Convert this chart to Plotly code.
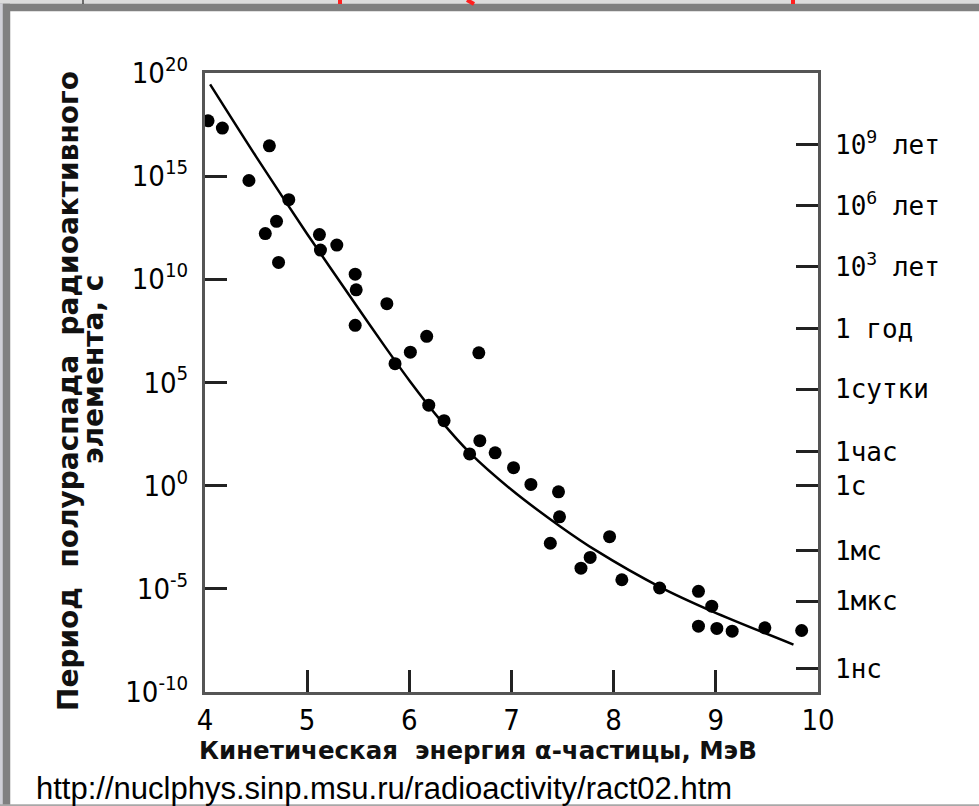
import plotly.graph_objects as go

# ---- data ----
# experimental points: alpha kinetic energy (MeV) and log10 of half-life (s)
energy_mev = [4.03, 4.17, 4.63, 4.43, 4.82, 4.70, 4.59, 4.72, 5.12, 5.13, 5.29,
              5.47, 5.48, 5.78, 5.47, 6.17, 6.01, 6.68, 5.86, 6.19, 6.34, 6.69,
              6.59, 6.84, 7.02, 7.19, 7.46, 7.47, 7.38, 7.96, 7.77, 7.68, 8.08,
              8.45, 8.83, 8.96, 8.83, 9.01, 9.16, 9.48, 9.84]
halflife_log10_s = [17.68, 17.33, 16.47, 14.79, 13.86, 12.81, 12.22, 10.82, 12.17,
                    11.42, 11.66, 10.25, 9.49, 8.82, 7.77, 7.24, 6.47, 6.44, 5.91,
                    3.90, 3.15, 2.18, 1.54, 1.59, 0.87, 0.06, -0.30, -1.51, -2.79,
                    -2.47, -3.48, -4.00, -4.56, -4.96, -5.12, -5.84, -6.81, -6.92,
                    -7.05, -6.89, -7.02]

# points
curve_energy_mev = [4.05, 4.5, 5.0, 5.5, 5.76, 6.0, 6.3, 6.59, 7.0, 7.47, 7.83,
                    8.45, 8.97, 9.76]
curve_log10_s = [19.45, 15.95, 12.2, 8.6, 6.75, 5.1, 3.2, 1.6, -0.2, -1.95, -3.15,
                 -4.9, -6.1, -7.7]

# left axis ticks
left_tick_exp = [20, 15, 10, 5, 0, -5, -10]
left_tick_text = ["10<sup>20</sup>", "10<sup>15</sup>", "10<sup>10</sup>", "10<sup>5</sup>",
                  "10<sup>0</sup>", "10<sup>-5</sup>", "10<sup>-10</sup>"]
# right axis ticks (positions, log10 s)
right_tick_exp = [16.52, 13.58, 10.60, 7.61, 4.67, 1.64, 0.0, -3.15, -5.59, -8.86]
right_tick_text = ["10<sup>9</sup> лет", "10<sup>6</sup> лет", "10<sup>3</sup> лет", "1 год",
                   "1сутки", "1час", "1с", "1мс", "1мкс", "1нс"]
x_ticks = [4, 5, 6, 7, 8, 9, 10]

# ---- layout geometry ----
W, H = 979, 806
L, R, T, B = 205, 161, 73, 114
PW, PH = W - L - R, H - T - B


def xp(px):
    return (px - L) / PW


def yp(py):
    return (H - B - py) / PH


pts_y = [10.0 ** v for v in halflife_log10_s]
curve_y = [10.0 ** v for v in curve_log10_s]

fig = go.Figure()
fig.add_trace(go.Scatter(x=curve_energy_mev, y=curve_y, mode="lines",
                         line=dict(color="black", width=2.5, shape="spline", smoothing=0.8),
                         hoverinfo="skip", showlegend=False))
fig.add_trace(go.Scatter(x=energy_mev, y=pts_y, mode="markers", yaxis="y2",
                         marker=dict(color="black", size=13), showlegend=False))

axis_line = "#555555"
tick_font = dict(family="Liberation Sans Narrow, DejaVu Sans Condensed, DejaVu Sans", size=29, color="black")

fig.update_layout(
    width=W, height=H, autosize=False,
    margin=dict(l=L, r=R, t=T, b=B, pad=0),
    paper_bgcolor="white", plot_bgcolor="white",
    xaxis=dict(range=[4, 10], tickvals=x_ticks, ticktext=[str(v) for v in x_ticks],
               ticks="inside", ticklen=22, tickwidth=2.5, tickcolor="#222",
               showline=True, linecolor=axis_line, linewidth=3, mirror=True,
               showgrid=False, zeroline=False, tickfont=tick_font, ticklabelstandoff=0),
    yaxis=dict(type="log", range=[-10, 20], tickvals=[10.0 ** e for e in left_tick_exp],
               ticktext=left_tick_text, ticks="inside", ticklen=22, tickwidth=2.5,
               tickcolor="#222", showline=True, linecolor=axis_line, linewidth=3,
               mirror=True, showgrid=False, zeroline=False, tickfont=tick_font,
               ticklabelstandoff=8),
    yaxis2=dict(type="log", range=[-10, 20], overlaying="y", side="right",
                tickvals=[10.0 ** e for e in right_tick_exp], ticktext=right_tick_text,
                ticks="inside", ticklen=22, tickwidth=2.5, tickcolor="#222",
                showline=False, showgrid=False, zeroline=False,
                tickfont=dict(family="DejaVu Sans Mono", size=26, color="black"),
                ticklabelstandoff=16),
)

title_font = dict(family="DejaVu Sans", size=24.5, color="#111", weight="bold")
fig.add_annotation(text="Кинетическая  энергия α-частицы, МэВ", xref="paper", yref="paper",
                   x=xp(478), y=yp(750), xanchor="center", yanchor="middle",
                   showarrow=False, font=title_font)
ytitle_font = dict(family="DejaVu Sans", size=28, color="#111", weight="bold")
fig.add_annotation(text="Период  полураспада  радиоактивного", xref="paper", yref="paper",
                   x=xp(68), y=yp(391), xanchor="center", yanchor="middle", textangle=-90,
                   showarrow=False, font=ytitle_font)
fig.add_annotation(text="элемента, с", xref="paper", yref="paper",
                   x=xp(93), y=yp(369), xanchor="center", yanchor="middle", textangle=-90,
                   showarrow=False, font=ytitle_font)
fig.add_annotation(text="http://nuclphys.sinp.msu.ru/radioactivity/ract02.htm",
                   xref="paper", yref="paper", x=xp(34), y=yp(788), xanchor="left",
                   yanchor="middle", showarrow=False,
                   font=dict(family="Liberation Sans, Arial", size=31, color="black"))

# slide frame: rectangles in pixels (x0, y0, x1, y1, colour)
frame = [
    (0, 0, W, 4, "#dcdcdc"),
    (0, 4, W, 11, "#808080"),
    (0, 4, 3, H, "#cfcfd6"),
    (3, 4, 10, H, "#808080"),
    (0, H - 1.5, W, H, "#a8a8a8"),
]
for x0, y0, x1, y1, c in frame:
    fig.add_shape(type="rect", xref="paper", yref="paper", x0=xp(x0), x1=xp(x1),
                  y0=yp(y1), y1=yp(y0), fillcolor=c, line=dict(color=c, width=0.5),
                  layer="above")
# cut-off fragments of slide heading above the frame
for xc in [340, 793]:
    fig.add_shape(type="line", xref="paper", yref="paper", x0=xp(xc), x1=xp(xc),
                  y0=yp(0), y1=yp(4), line=dict(color="#ff2020", width=4), layer="above")
fig.add_shape(type="line", xref="paper", yref="paper", x0=xp(467), x1=xp(474),
              y0=yp(0), y1=yp(4), line=dict(color="#ff2020", width=4), layer="above")
fig.add_shape(type="line", xref="paper", yref="paper", x0=xp(83), x1=xp(83),
              y0=yp(0), y1=yp(4), line=dict(color="black", width=1), layer="above")

fig.write_html("out.html", config={"displayModeBar": False},
               post_script="document.body.style.margin='0';")
